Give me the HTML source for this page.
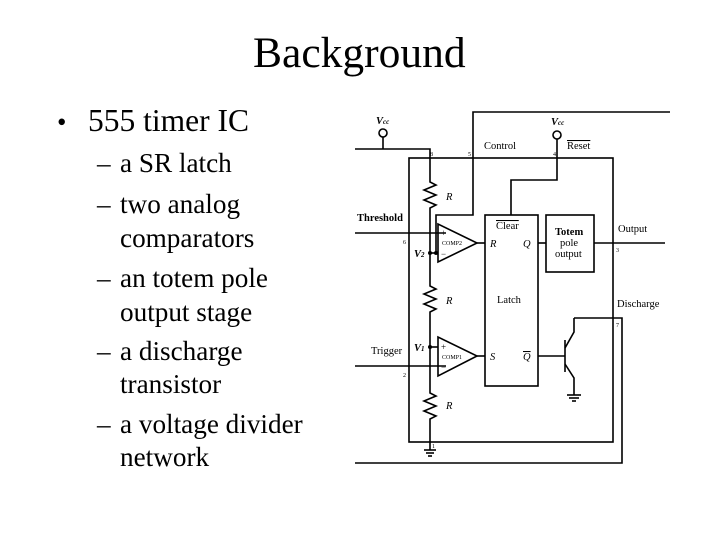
<!DOCTYPE html>
<html><head><style>
html,body{margin:0;padding:0;background:#fff;}
svg{display:block;}
svg text{font-family:"Liberation Serif","Times New Roman",serif;}
</style></head><body>
<svg width="720" height="540" viewBox="0 0 720 540" xmlns="http://www.w3.org/2000/svg">
<text x="253" y="67" font-size="43.5">Background</text>
<text x="57" y="131" font-size="27">•</text>
<text x="88" y="131" font-size="31.5">555 timer IC</text>
<g font-size="27.2">
<text x="97" y="172">–</text><text x="120" y="172">a SR latch</text>
<text x="97" y="213">–</text><text x="120" y="213">two analog</text>
<text x="120" y="247">comparators</text>
<text x="97" y="287">–</text><text x="120" y="287">an totem pole</text>
<text x="120" y="321">output stage</text>
<text x="97" y="360">–</text><text x="120" y="360">a discharge</text>
<text x="120" y="393">transistor</text>
<text x="97" y="433">–</text><text x="120" y="433">a voltage divider</text>
<text x="120" y="466">network</text>
</g>
<g stroke="#000" stroke-width="1.6" fill="none">
<rect x="409" y="158" width="204" height="284"/>
<polyline points="670,112 473,112 473,215 436,215 436,253"/>
<circle cx="383" cy="133" r="4"/>
<line x1="383" y1="137" x2="383" y2="149"/>
<polyline points="355,149 430,149 430,178"/>
<polyline points="430,178 430,182 436,185 424,190 436,195 424,200 436,205 430,208 430,283"/>
<polyline points="430,283 430,286 436,289 424,294 436,299 424,304 436,309 430,312 430,390"/>
<polyline points="430,390 430,393 436,396 424,401 436,406 424,411 436,416 430,419 430,442 430,450"/>
<line x1="424" y1="450" x2="436" y2="450"/><line x1="426" y1="453" x2="434" y2="453"/><line x1="428" y1="456" x2="432" y2="456"/>
<polygon points="438,224 438,262 477,243"/>
<polygon points="438,337 438,376 477,356"/>
<line x1="430" y1="253" x2="438" y2="253"/>
<line x1="430" y1="347" x2="438" y2="347"/>
<line x1="355" y1="233" x2="446" y2="233"/>
<line x1="355" y1="366" x2="446" y2="366"/>
<line x1="477" y1="243" x2="485" y2="243"/>
<line x1="477" y1="356" x2="485" y2="356"/>
<rect x="485" y="215" width="53" height="171"/>
<rect x="546" y="215" width="48" height="57"/>
<line x1="538" y1="243" x2="546" y2="243"/>
<line x1="594" y1="243" x2="665" y2="243"/>
<circle cx="557" cy="135" r="4"/>
<polyline points="557,139 557,180 511,180 511,215"/>
<line x1="538" y1="356" x2="565" y2="356"/>
<line x1="565" y1="340" x2="565" y2="372"/>
<polyline points="574,318 574,332 565,348"/>
<polyline points="565,364 574,378 574,395"/>
<polyline points="574,318 622,318 622,463 355,463"/>
<line x1="567" y1="395" x2="581" y2="395"/><line x1="569" y1="398" x2="579" y2="398"/><line x1="572" y1="401" x2="576" y2="401"/>
</g>
<g fill="#000">
<circle cx="430" cy="253" r="2"/><circle cx="436" cy="253" r="2"/><circle cx="430" cy="347" r="2"/>
</g>
<g font-size="10.5">
<text x="376" y="124" font-style="italic" font-weight="bold">V<tspan font-size="7">cc</tspan></text>
<text x="551" y="125" font-style="italic" font-weight="bold">V<tspan font-size="7">cc</tspan></text>
<text x="484" y="149">Control</text>
<text x="567" y="149" text-decoration="overline">Reset</text>
<text x="357" y="221" font-weight="bold">Threshold</text>
<text x="618" y="232">Output</text>
<text x="617" y="307">Discharge</text>
<text x="371" y="354">Trigger</text>
<text x="496" y="229" text-decoration="overline">Clear</text>
<text x="555" y="235" font-weight="bold">Totem</text>
<text x="560" y="246">pole</text>
<text x="555" y="257">output</text>
<text x="497" y="303">Latch</text>
<text x="490" y="247" font-style="italic">R</text>
<text x="523" y="247" font-style="italic">Q</text>
<text x="490" y="360" font-style="italic">S</text>
<text x="523" y="360" font-style="italic" text-decoration="overline">Q</text>
<text x="446" y="200" font-style="italic">R</text>
<text x="446" y="304" font-style="italic">R</text>
<text x="446" y="409" font-style="italic">R</text>
<text x="414" y="257" font-style="italic" font-weight="bold">V<tspan font-size="7">2</tspan></text>
<text x="414" y="351" font-style="italic" font-weight="bold">V<tspan font-size="7">1</tspan></text>
</g>
<g font-size="6">
<text x="442" y="245">COMP2</text>
<text x="442" y="359">COMP1</text>
<text x="430" y="156">8</text><text x="468" y="156">5</text><text x="553" y="156">4</text>
<text x="403" y="244">6</text><text x="403" y="377">2</text><text x="616" y="252">3</text><text x="616" y="327">7</text>
<text x="432" y="448">1</text>
</g>
<g font-size="9"><text x="441" y="236">+</text><text x="441" y="257">−</text><text x="441" y="350">+</text><text x="441" y="370">−</text></g>
</svg>
</body></html>
